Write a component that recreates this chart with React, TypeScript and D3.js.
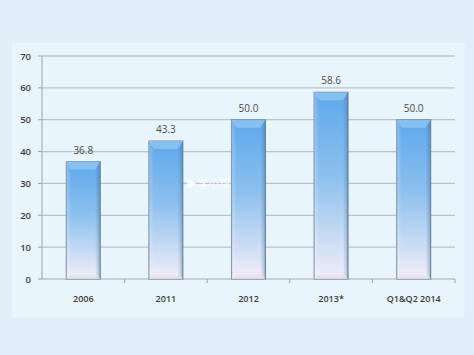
import React from "react";
import * as d3 from "d3";

const categories = ["2006", "2011", "2012", "2013*", "Q1&Q2 2014"];
const values = [36.8, 43.3, 50.0, 58.6, 50.0];
const labels = ["36.8", "43.3", "50.0", "58.6", "50.0"];
const yTicks = [0, 10, 20, 30, 40, 50, 60, 70];

const W = 474, H = 355;
const left = 42, right = 455, top = 56, bottom = 279;

export default function App() {
  const x = d3.scaleBand<string>().domain(categories).range([left, right]).paddingInner(0.59).paddingOuter(0.295);
  const y = d3.scaleLinear().domain([0, 70]).range([bottom, top]);
  const bw = x.bandwidth();
  const step = x.step();
  const font = "'Open Sans', 'Liberation Sans', Arial, sans-serif";
  return (
    <svg width={W} height={H} style={{ position: "absolute", left: 0, top: 0 }}>
      <defs>
        <linearGradient id="barg" x1="0" y1="0" x2="0" y2="1">
          <stop offset="0" stopColor="#5ea8ec" />
          <stop offset="0.45" stopColor="#8cc0ee" />
          <stop offset="1" stopColor="#f2eef8" />
        </linearGradient>
        <linearGradient id="barside" x1="0" y1="0" x2="1" y2="0">
          <stop offset="0" stopColor="#ffffff" stopOpacity="0.25" />
          <stop offset="0.15" stopColor="#ffffff" stopOpacity="0" />
          <stop offset="0.85" stopColor="#2d5f8f" stopOpacity="0" />
          <stop offset="1" stopColor="#2d5f8f" stopOpacity="0.35" />
        </linearGradient>
      </defs>
      <rect x={0} y={0} width={W} height={H} fill="#e0eff8" />
      <rect x={12} y={43} width={453} height={275} fill="#e9f5fc" />
      {yTicks.map((t) => (
        <g key={t}>
          <line x1={left} x2={right} y1={y(t)} y2={y(t)} stroke="#b8c4cb" strokeWidth={1.3} />
          <line x1={left - 4} x2={left} y1={y(t)} y2={y(t)} stroke="#9aa6ad" />
          <text x={left - 11} y={y(t) + 3.5} textAnchor="end" fontSize={9.5} fontWeight={600} fill="#3a3a3a" fontFamily={font}>{t}</text>
        </g>
      ))}
      <line x1={left} x2={left} y1={top} y2={bottom} stroke="#9aa6ad" />
      {categories.map((c, i) => (
        <line key={"tk" + i} x1={left + step * (i + 1)} x2={left + step * (i + 1)} y1={bottom} y2={bottom + 4} stroke="#9aa6ad" />
      ))}
      {categories.map((c, i) => {
        const bx = x(c)!;
        const by = y(values[i]);
        const bh = bottom - by;
        const bev = 5;
        return (
          <g key={c}>
            <rect x={bx} y={by} width={bw} height={bh} fill="url(#barg)" stroke="#7a8ea0" strokeWidth={1.2} />
            <rect x={bx} y={by} width={bw} height={bh} fill="url(#barside)" />
            <path d={`M${bx},${by} L${bx + bw},${by} L${bx + bw - bev},${by + bev * 1.6} L${bx + bev},${by + bev * 1.6} Z`} fill="#8fc6f3" opacity={0.8} />
            <path d={`M${bx},${by + bh} L${bx + bw},${by + bh} L${bx + bw - 3},${by + bh - 4} L${bx + 3},${by + bh - 4} Z`} fill="#e4e0ee" opacity={0.8} />
            <text x={bx + bw / 2} y={by - 8} textAnchor="middle" fontSize={10} fill="#4a4a4a" fontFamily={font}>{labels[i]}</text>
            <text x={bx + bw / 2} y={302} textAnchor="middle" fontSize={9} fontWeight={600} fill="#3a3a3a" fontFamily={font}>{c}</text>
          </g>
        );
      })}
      <text x={186} y={188} fontSize={11} fill="#ffffff" opacity={0.9} fontFamily="'Noto Sans CJK SC', sans-serif">▶学小帮</text>
    </svg>
  );
}
